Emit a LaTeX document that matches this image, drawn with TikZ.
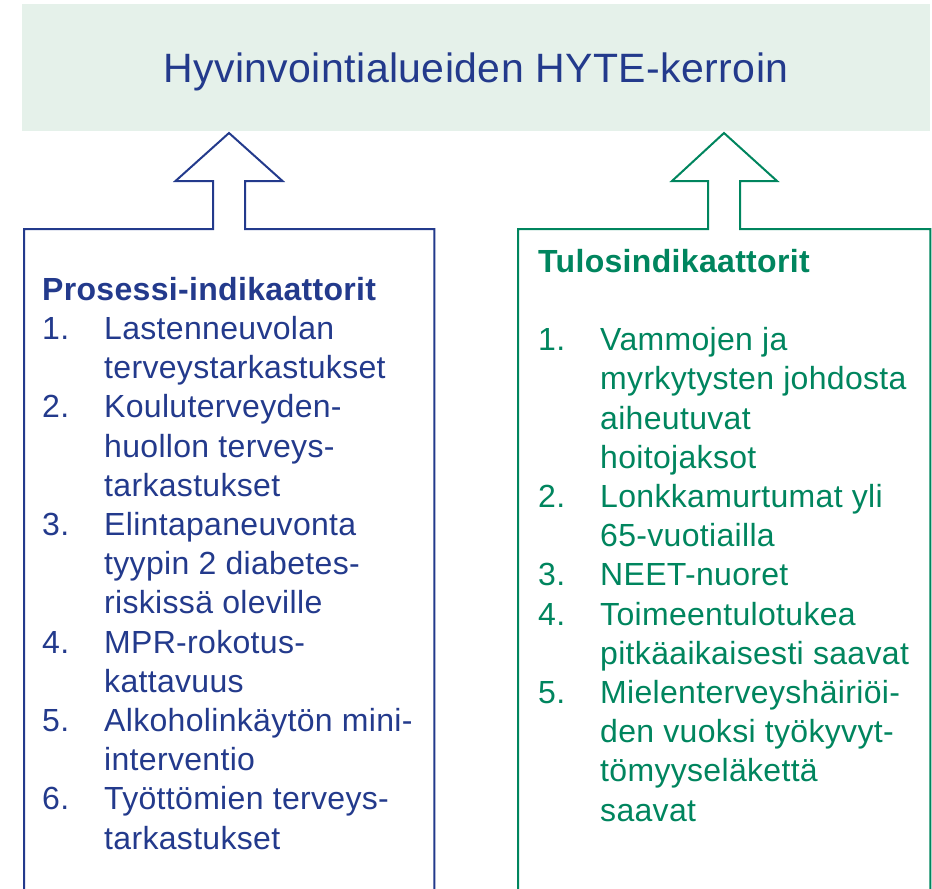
\documentclass[tikz,border=0pt]{standalone}
\usepackage{fontspec}
\setmainfont[LetterSpace=1]{Liberation Sans}
\usetikzlibrary{positioning}
\definecolor{hyteblue}{RGB}{35,58,140}
\definecolor{hytegreen}{RGB}{0,133,94}
\definecolor{hytepale}{RGB}{229,241,234}
\newcommand{\nro}[1]{\makebox[62pt][l]{#1}}
\begin{document}
\begin{tikzpicture}[x=1pt,y=-1pt,
    boxline/.style={line width=2pt,line join=miter},
    listtext/.style={anchor=north west,inner sep=0pt,align=left,
        font=\fontsize{32}{39.2}\selectfont}]
                \useasboundingbox (0,0) rectangle (932,889);
                \node[fill=hytepale,
                    minimum width =908pt ,
                    minimum height =127pt ,
                    text height=35pt,text depth=6pt,
                    text=hyteblue,font=\fontsize{41}{48}\selectfont] (kerroin) at(476,67.5){Hyvinvointialueiden HYTE-kerroin};
                \node[anchor=north west,
                    minimum width =410pt ,
                    minimum height =660pt] (lbox) at(24,229){};
                \node[anchor=north west,
                    minimum width =412pt ,
                    minimum height =660pt] (rbox) at(518,229){};
                \coordinate (lkarki) at(229,133);
                \coordinate (rkarki) at(724,133);
                \draw[boxline,draw=hyteblue] (lbox.south west) -- (lbox.north west) -- ++(189,0) -- ++(0,-48) -- ++(-37.5,0)
                    -- (lkarki) -- ++(53.5,48) -- ++(-37.5,0) -- ++(0,48) -| (lbox.south east);
                \draw[boxline,draw=hytegreen] (rbox.south west) -- (rbox.north west) -- ++(190,0) -- ++(0,-48) -- ++(-36,0)
                    -- (rkarki) -- ++(53,48) -- ++(-37,0) -- ++(0,48) -| (rbox.south east);
                \node[listtext,text=hyteblue] (prosessi) at([xshift=18pt,yshift=-48pt]lbox.north west){%
                    \textbf{Prosessi-indikaattorit}\\
                    \nro{1.}Lastenneuvolan\\
                    \nro{}terveystarkastukset\\
                    \nro{2.}Kouluterveyden-\\
                    \nro{}huollon terveys-\\
                    \nro{}tarkastukset\\
                    \nro{3.}Elintapaneuvonta\\
                    \nro{}tyypin 2 diabetes-\\
                    \nro{}riskissä oleville\\
                    \nro{4.}MPR-rokotus-\\
                    \nro{}kattavuus\\
                    \nro{5.}Alkoholinkäytön mini-\\
                    \nro{}interventio\\
                    \nro{6.}Työttömien terveys-\\
                    \nro{}tarkastukset};
                \node[listtext,text=hytegreen] (tulos) at([xshift=20pt,yshift=-20pt]rbox.north west){%
                    \textbf{Tulosindikaattorit}\\[39.2pt]
                    \nro{1.}Vammojen ja\\
                    \nro{}myrkytysten johdosta\\
                    \nro{}aiheutuvat\\
                    \nro{}hoitojaksot\\
                    \nro{2.}Lonkkamurtumat yli\\
                    \nro{}65-vuotiailla\\
                    \nro{3.}NEET-nuoret\\
                    \nro{4.}Toimeentulotukea\\
                    \nro{}pitkäaikaisesti saavat\\
                    \nro{5.}Mielenterveyshäiriöi-\\
                    \nro{}den vuoksi työkyvyt-\\
                    \nro{}tömyyseläkettä\\
                    \nro{}saavat};
            \end{tikzpicture}
\end{document}
